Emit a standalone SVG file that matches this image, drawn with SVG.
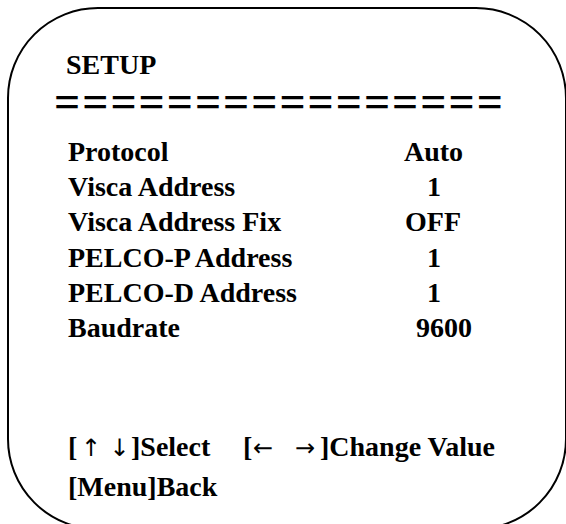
<svg xmlns="http://www.w3.org/2000/svg" width="566" height="524" viewBox="0 0 566 524">
<style>
.t{font-family:"Liberation Serif","Times New Roman",serif;font-weight:bold;font-size:28px;fill:#000}
.eq{font-family:"Liberation Serif","Times New Roman",serif;font-weight:bold;font-size:46px;fill:#000;text-anchor:middle}
.ar{font-family:"DejaVu Sans",sans-serif;font-size:24px;fill:#000;text-anchor:middle}
</style>
<rect width="566" height="524" fill="#fff"/>
<g id="frame">
<rect x="8" y="8" width="558" height="521" rx="90" ry="90" fill="none" stroke="#000" stroke-width="2"/>
</g>
<g id="title">
<text class="t" x="66" y="74">SETUP</text>
<text class="eq" y="116.5" x="67.2 95.4 123.5 151.7 179.9 208.0 236.2 264.4 292.6 320.7 348.9 377.1 405.2 433.4 461.6 489.8">================</text>
</g>
<g id="row-protocol"><text class="t" x="68" y="161">Protocol</text><text class="t" x="404" y="161">Auto</text></g>
<g id="row-visca"><text class="t" x="68" y="196">Visca Address</text><text class="t" x="427" y="196">1</text></g>
<g id="row-visca-fix"><text class="t" x="68" y="231">Visca Address Fix</text><text class="t" x="405" y="231">OFF</text></g>
<g id="row-pelco-p"><text class="t" x="68" y="267">PELCO-P Address</text><text class="t" x="427" y="267">1</text></g>
<g id="row-pelco-d"><text class="t" x="68" y="302">PELCO-D Address</text><text class="t" x="427" y="302">1</text></g>
<g id="row-baud"><text class="t" x="68" y="337">Baudrate</text><text class="t" x="416" y="337">9600</text></g>
<g id="help">
<text class="t" x="68" y="455.5">[</text>
<text class="ar" x="91" y="455.5">↑</text>
<text class="ar" x="119.5" y="455.5">↓</text>
<text class="t" x="131" y="455.5">]Select</text>
<text class="t" x="243" y="455.5">[</text>
<text class="ar" x="263" y="455.5">←</text>
<text class="ar" x="305" y="455.5">→</text>
<text class="t" x="320" y="455.5">]Change Value</text>
<text class="t" x="68" y="496">[Menu]Back</text>
</g>
</svg>
